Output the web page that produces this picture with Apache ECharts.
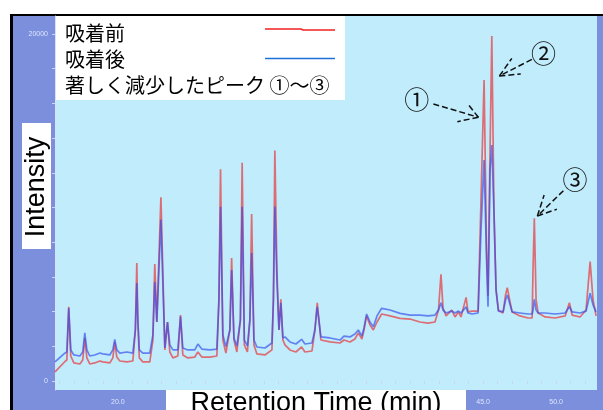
<!DOCTYPE html>
<html>
<head>
<meta charset="utf-8">
<script src="https://cdn.jsdelivr.net/npm/echarts@6/dist/echarts.min.js"></script>
<style>
  html, body { margin: 0; padding: 0; background: #fff; }
  #chart { width: 603px; height: 410px; }
</style>
</head>
<body>
<div id="chart"></div>
<script>
// retention time (min) and intensity
const retentionTime = [
  15.70, 16.37, 16.51, 16.64, 16.78, 16.99, 17.40, 17.60, 17.74, 17.88,
  18.08, 18.42, 18.77, 18.97, 19.45, 19.66, 19.79, 19.93, 20.14, 20.62,
  21.03, 21.20, 21.30, 21.37, 21.47, 21.71, 22.19, 22.40, 22.53, 22.67,
  22.95, 23.22, 23.40, 23.56, 23.77, 24.11, 24.29, 24.45, 24.79, 25.27,
  25.48, 25.75, 26.30, 26.78, 26.92, 27.03, 27.19, 27.40, 27.67, 27.79,
  27.95, 28.15, 28.39, 28.51, 28.66, 28.87, 29.04, 29.16, 29.32, 29.52,
  30.07, 30.55, 30.65, 30.75, 30.89, 31.03, 31.16, 31.30, 31.44, 31.78,
  32.19, 32.58, 32.81, 33.29, 33.49, 33.65, 33.80, 33.90, 34.52, 35.21,
  35.48, 35.89, 36.23, 36.46, 36.71, 36.85, 37.03, 37.26, 37.49, 37.74,
  38.06, 38.63, 39.32, 40.00, 40.68, 41.23, 41.71, 41.95, 42.12, 42.26,
  42.47, 42.86, 43.08, 43.31, 43.49, 43.84, 43.97, 44.25, 44.66, 44.86,
  45.07, 45.24, 45.34, 45.48, 45.60, 45.75, 45.89, 46.05, 46.37, 46.54,
  46.66, 46.82, 46.99, 47.53, 48.08, 48.36, 48.42, 48.51, 48.63, 48.77,
  49.25, 49.93, 50.62, 50.91, 51.10, 51.64, 52.05, 52.33, 52.53, 52.74
]
// 吸着前
const beforeAdsorption = [
  520, 1110, 1210, 4280, 1440, 1040, 980, 1210, 2480, 1330,
  980, 1040, 1150, 1100, 1040, 1330, 2250, 1380, 1150, 1100,
  1150, 2940, 6800, 3520, 1330, 1100, 1100, 2360, 6740, 3400,
  10590, 1790, 3400, 1670, 1330, 1440, 3800, 1500, 1330, 1380,
  1670, 1380, 1380, 1440, 4670, 12200, 2360, 1610, 2940, 7090,
  2360, 1670, 3520, 12580, 2080, 1670, 3520, 9630, 2080, 1560,
  1500, 1790, 4670, 13280, 6400, 2940, 4710, 2360, 2080, 1790,
  1670, 1960, 1670, 1730, 2940, 4510, 3230, 2360, 2250, 2190,
  2360, 2250, 2420, 2770, 2420, 2940, 3750, 3230, 2940, 3400,
  3860, 3750, 3610, 3570, 3400, 3340, 3400, 4090, 6150, 4210,
  3750, 4090, 3690, 3980, 3690, 4820, 3980, 4030, 4030, 10430,
  17350, 7550, 4900, 13320, 19890, 9680, 5250, 4090, 3920, 4960,
  5380, 4670, 3980, 3750, 3630, 3630, 6400, 9380, 4670, 3920,
  3690, 3630, 3750, 4510, 3800, 3690, 4090, 6880, 4670, 3750
]
// 吸着後
const afterAdsorption = [
  1100, 1600, 1670, 4200, 1790, 1500, 1440, 1670, 2770, 1790,
  1440, 1500, 1610, 1560, 1500, 1790, 2400, 1790, 1610, 1670,
  1610, 2940, 5650, 3520, 1790, 1610, 1610, 2650, 5710, 3400,
  9300, 1900, 3400, 2080, 1790, 1790, 3710, 1900, 1790, 1790,
  2130, 1840, 1790, 1840, 4670, 10050, 2650, 1980, 2940, 6400,
  2480, 2020, 3520, 10050, 2360, 2020, 3520, 7380, 2360, 1960,
  1900, 2190, 4670, 10050, 5820, 2940, 4500, 2480, 2540, 2250,
  2130, 2400, 2130, 2190, 2940, 4280, 3230, 2540, 2480, 2360,
  2590, 2540, 2710, 2940, 2590, 3060, 3860, 3400, 3130, 3750,
  4190, 4090, 3900, 3800, 3800, 3750, 3800, 4090, 4510, 4090,
  3920, 4030, 3920, 4030, 3920, 4270, 3920, 3860, 3920, 8700,
  12740, 6970, 4280, 12160, 13600, 9680, 5250, 4030, 3980, 4670,
  4960, 4500, 3980, 3920, 3860, 3860, 4090, 4710, 4090, 3920,
  3920, 3860, 3920, 4280, 3980, 3920, 4030, 5060, 4380, 3980
]
const xTicks = [16, 17, 18, 19, 20, 21, 22, 23, 24, 25, 26, 27, 28, 29, 30, 31, 32, 33, 34,
  35, 36, 37, 38, 39, 40, 41, 42, 43, 44, 45, 46, 47, 48, 49, 50, 51, 52]
const xLabels = [20, 25, 30, 35, 40, 45, 50]
const yTicks = [0, 2000, 4000, 6000, 8000, 10000, 12000, 14000, 16000, 18000, 20000]
const yLabels = [0, 20000]
const legendNames = ['吸着前', '吸着後', '著しく減少したピーク ①～③']

const FRAME = '#7b8fdc'
const PLOT = '#c0ecfc'
const JP = '"Noto Sans CJK JP", sans-serif'
const SANS = '"Liberation Sans", Arial, sans-serif'

const arrowStyle = { type: 'dashed', color: '#111', width: 1.5 }
const seg = (a, b) => [{ coord: a }, { coord: b }]

const chart = echarts.init(document.getElementById('chart'), null, { renderer: 'canvas' })
chart.setOption({
  animation: false,
  backgroundColor: '#fff',
  grid: {
    left: 55,
    top: 16,
    width: 542,
    height: 374,
    show: true,
    backgroundColor: PLOT,
    borderWidth: 0
  },
  xAxis: {
    type: 'value',
    min: 15.7,
    max: 52.8,
    axisLine: { show: false },
    axisTick: { show: true, customValues: xTicks, length: 3, lineStyle: { color: '#c9d5f6' } },
    axisLabel: {
      customValues: xLabels,
      formatter: v => v.toFixed(1),
      color: '#dfe6ff',
      fontSize: 7,
      fontFamily: SANS,
      margin: 9
    },
    splitLine: { show: false }
  },
  yAxis: {
    type: 'value',
    min: -520,
    max: 21040,
    axisLine: { show: true, lineStyle: { color: '#d6e2fa', width: 1 } },
    axisTick: { show: true, customValues: yTicks, length: 3, lineStyle: { color: '#c9d5f6' } },
    axisLabel: {
      customValues: yLabels,
      formatter: v => String(v),
      color: '#dfe6ff',
      fontSize: 7,
      fontFamily: SANS,
      margin: 7
    },
    splitLine: { show: false }
  },
  series: [
    {
      name: legendNames[0],
      type: 'line',
      symbol: 'none',
      z: 2,
      lineStyle: { color: '#e8383c', width: 1.7, opacity: 0.7 },
      data: retentionTime.map((t, i) => [t, beforeAdsorption[i]])
    },
    {
      name: legendNames[1],
      type: 'line',
      symbol: 'none',
      z: 3,
      lineStyle: { color: '#2f48ec', width: 1.7, opacity: 0.65 },
      data: retentionTime.map((t, i) => [t, afterAdsorption[i]]),
      markLine: {
        silent: true,
        symbol: ['none', 'none'],
        lineStyle: arrowStyle,
        label: { show: false },
        data: [
          // ①
          seg([41.60, 15970], [44.68, 15200]),
          seg([44.68, 15200], [43.92, 16010]),
          seg([44.68, 15200], [43.24, 14950]),
          // ②
          seg([48.34, 18540], [46.12, 17580]),
          seg([46.12, 17580], [46.97, 18600]),
          seg([46.12, 17580], [47.58, 17700]),
          // ③
          seg([50.50, 10970], [48.72, 9510]),
          seg([48.72, 9510], [49.18, 10720]),
          seg([48.72, 9510], [50.05, 9900])
        ]
      },
      markPoint: {
        silent: true,
        symbol: 'circle',
        symbolSize: 0,
        label: {
          show: true,
          position: 'inside',
          formatter: p => p.name,
          color: '#111',
          fontSize: 25,
          fontFamily: JP
        },
        data: [
          { name: '①', coord: [40.46, 16200] },
          { name: '②', coord: [49.13, 18890] },
          { name: '③', coord: [51.30, 11630] }
        ]
      }
    }
  ],
  graphic: [
    // outer frame
    { type: 'rect', z: -100, shape: { x: 10, y: 14, width: 593, height: 396 }, style: { fill: '#000' } },
    { type: 'rect', z: -99, shape: { x: 13, y: 16, width: 590, height: 394 }, style: { fill: FRAME } },
    // legend box
    { type: 'rect', z: 100, shape: { x: 56, y: 16, width: 289, height: 84 }, style: { fill: '#fff' } },
    { type: 'text', z: 101, x: 65, y: 33, style: { text: legendNames[0], fontSize: 20, fontFamily: JP, fill: '#000', verticalAlign: 'middle' } },
    { type: 'text', z: 101, x: 65, y: 59, style: { text: legendNames[1], fontSize: 20, fontFamily: JP, fill: '#000', verticalAlign: 'middle' } },
    { type: 'text', z: 101, x: 65, y: 85, style: { text: legendNames[2], fontSize: 20, fontFamily: JP, fill: '#000', verticalAlign: 'middle' } },
    { type: 'polyline', z: 101, shape: { points: [[265, 29], [301, 29], [303, 30], [335, 30]] }, style: { stroke: '#f02020', lineWidth: 1.5, fill: null } },
    { type: 'line', z: 101, shape: { x1: 265, y1: 58.5, x2: 335, y2: 58.5 }, style: { stroke: '#1e6fd8', lineWidth: 1.5 } },
    // y axis title
    { type: 'rect', z: 100, shape: { x: 22, y: 123, width: 29, height: 126 }, style: { fill: '#fff' } },
    { type: 'text', z: 101, x: 37, y: 187, rotation: Math.PI / 2, style: { text: 'Intensity', fontSize: 27, fontFamily: SANS, fill: '#000', align: 'center', verticalAlign: 'middle' } },
    // x axis title
    { type: 'rect', z: 100, shape: { x: 166, y: 390, width: 300, height: 20 }, style: { fill: '#fff' } },
    { type: 'text', z: 101, x: 316, y: 404, style: { text: 'Retention Time (min)', fontSize: 27, fontFamily: SANS, fill: '#000', align: 'center', verticalAlign: 'middle' } }
  ]
})
</script>
</body>
</html>
